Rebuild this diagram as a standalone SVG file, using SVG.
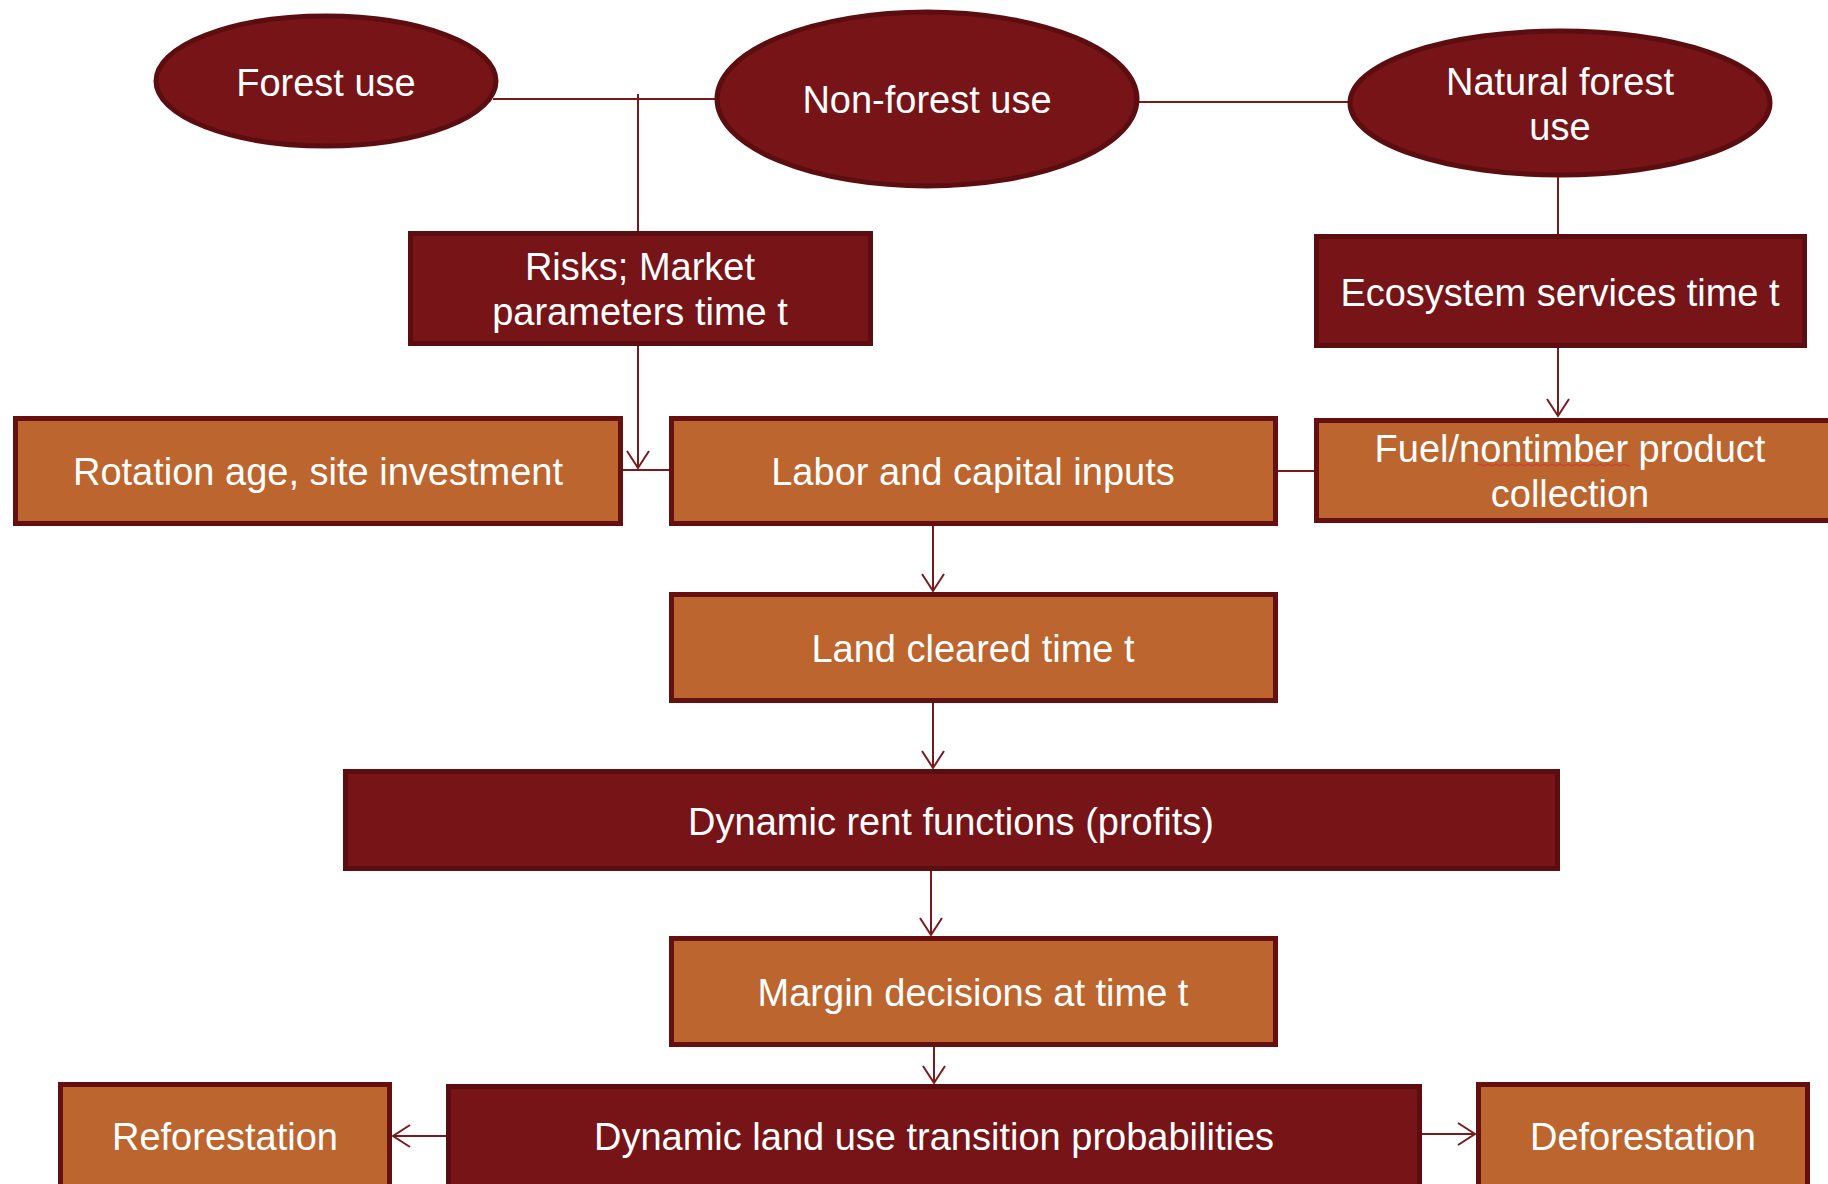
<svg xmlns="http://www.w3.org/2000/svg" width="1828" height="1184" viewBox="0 0 1828 1184">
<style>
.dark{fill:#761417;stroke:#5c0d10;stroke-width:5}
.orange{fill:#bc652e;stroke:#65100f;stroke-width:5}
.t{font-family:"Liberation Sans",Arial,sans-serif;font-size:38px;fill:#ffffff;text-anchor:middle}
.c{fill:none;stroke:#7a1a1c;stroke-width:2}
</style>
<defs>
<marker id="arr" viewBox="-20 -13 22 26" markerWidth="22" markerHeight="26" refX="0" refY="0" orient="auto" markerUnits="userSpaceOnUse">
<path d="M-17,-11 L0,0 L-17,11" fill="none" stroke="#7a1a1c" stroke-width="2"/>
</marker>
</defs>
<rect width="1828" height="1184" fill="#ffffff"/>
<g id="connectors">
<path class="c" d="M493,99 H717"/>
<path class="c" d="M638,94 V231"/>
<path class="c" d="M638,346 V468" marker-end="url(#arr)"/>
<path class="c" d="M623,470 H669"/>
<path class="c" d="M1137,102 H1350"/>
<path class="c" d="M1558,175 V234"/>
<path class="c" d="M1558,348 V416" marker-end="url(#arr)"/>
<path class="c" d="M1278,471 H1314"/>
<path class="c" d="M933,526 V591" marker-end="url(#arr)"/>
<path class="c" d="M933,703 V768" marker-end="url(#arr)"/>
<path class="c" d="M931,871 V935" marker-end="url(#arr)"/>
<path class="c" d="M934,1047 V1083" marker-end="url(#arr)"/>
<path class="c" d="M446,1136 H393" marker-end="url(#arr)"/>
<path class="c" d="M1422,1134 H1475" marker-end="url(#arr)"/>
</g>
<g id="forest-use">
<ellipse class="dark" cx="326" cy="81" rx="170" ry="65"/>
<text class="t" x="326" y="96">Forest use</text>
</g>
<g id="non-forest-use">
<ellipse class="dark" cx="927" cy="99" rx="210" ry="87"/>
<text class="t" x="927" y="113">Non-forest use</text>
</g>
<g id="natural-forest-use">
<ellipse class="dark" cx="1560" cy="103" rx="210" ry="72"/>
<text class="t" x="1560" y="95">Natural forest</text>
<text class="t" x="1560" y="140">use</text>
</g>
<g id="risks">
<rect class="dark" x="410.5" y="233.5" width="460" height="110"/>
<text class="t" x="640" y="280">Risks; Market</text>
<text class="t" x="640" y="325">parameters time t</text>
</g>
<g id="ecosystem">
<rect class="dark" x="1316.5" y="236.5" width="488" height="109"/>
<text class="t" x="1560" y="306">Ecosystem services time t</text>
</g>
<g id="rotation">
<rect class="orange" x="15.5" y="418.5" width="605" height="105"/>
<text class="t" x="318" y="485">Rotation age, site investment</text>
</g>
<g id="labor">
<rect class="orange" x="671.5" y="418.5" width="604" height="105"/>
<text class="t" x="973" y="485">Labor and capital inputs</text>
</g>
<g id="fuel">
<rect class="orange" x="1316.5" y="420.5" width="514" height="100"/>
<text class="t" x="1570" y="462">Fuel/nontimber product</text>
<text class="t" x="1570" y="507">collection</text>
<path d="M1478,465 q2,-2 4,0 t4,0 t4,0 t4,0 t4,0 t4,0 t4,0 t4,0 t4,0 t4,0 t4,0 t4,0 t4,0 t4,0 t4,0 t4,0 t4,0 t4,0 t4,0 t4,0 t4,0 t4,0 t4,0 t4,0 t4,0 t4,0 t4,0 t4,0 t4,0 t4,0 t4,0 t4,0 t4,0 t4,0 t4,0 t4,0 t4,0 t4,0" fill="none" stroke="#d6343a" stroke-width="1"/>
</g>
<g id="land-cleared">
<rect class="orange" x="671.5" y="594.5" width="604" height="106"/>
<text class="t" x="973" y="662">Land cleared time t</text>
</g>
<g id="rent">
<rect class="dark" x="345.5" y="771.5" width="1212" height="97"/>
<text class="t" x="951" y="835">Dynamic rent functions (profits)</text>
</g>
<g id="margin">
<rect class="orange" x="671.5" y="938.5" width="604" height="106"/>
<text class="t" x="973" y="1006">Margin decisions at time t</text>
</g>
<g id="reforestation">
<rect class="orange" x="60.5" y="1084.5" width="329" height="110"/>
<text class="t" x="225" y="1150">Reforestation</text>
</g>
<g id="transition">
<rect class="dark" x="448.5" y="1086.5" width="971" height="110"/>
<text class="t" x="934" y="1150">Dynamic land use transition probabilities</text>
</g>
<g id="deforestation">
<rect class="orange" x="1478.5" y="1084.5" width="329" height="110"/>
<text class="t" x="1643" y="1150">Deforestation</text>
</g>
</svg>
